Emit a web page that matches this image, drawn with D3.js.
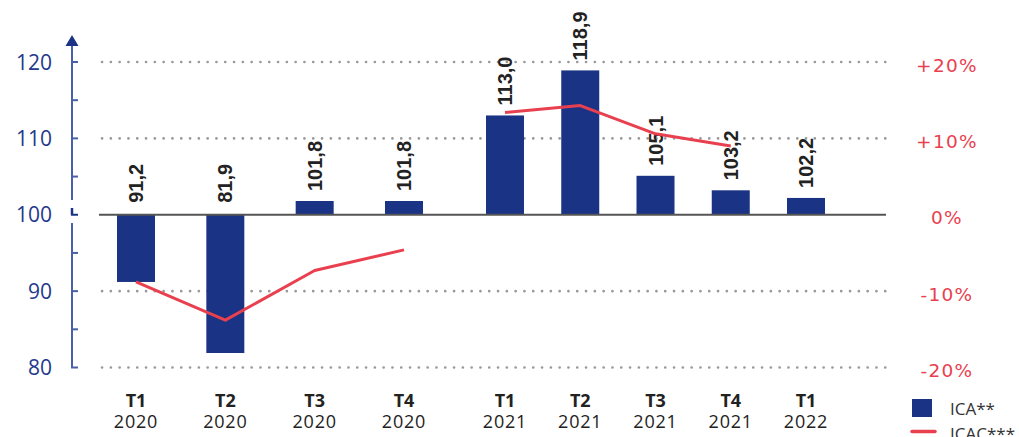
<!DOCTYPE html>
<html><head><meta charset="utf-8">
<script src="https://cdn.jsdelivr.net/npm/d3@7"></script>
<style>html,body{margin:0;padding:0;background:#fff;}svg{display:block;}</style>
</head><body>
<svg id="chart" width="1019" height="437"></svg>
<script>
// ---- data ----
const quarters = ["T1","T2","T3","T4","T1","T2","T3","T4","T1"];
const years    = ["2020","2020","2020","2020","2021","2021","2021","2021","2022"];
const ica      = [91.2, 81.9, 101.8, 101.8, 113.0, 118.9, 105.1, 103.2, 102.2];
const icac     = [-8.8, -13.8, -7.3, -4.6, 13.4, 14.3, 10.6, 9.0, null];
const leftTicks  = [80, 90, 100, 110, 120];
const rightTicks = [-20, -10, 0, 10, 20];
const seriesNames = ["ICA**", "ICAC***"];

// ---- layout / style ----
const navy = "#1b3385", axisBlue = "#4860a8", red = "#e9404f";
const svg = d3.select("#chart");
const y = d3.scaleLinear().domain([80, 120]).range([367.5, 62]);
const yR = d3.scaleLinear().domain([-20, 20]).range([y(80), y(120)]);
const idx = d3.range(quarters.length);
const x = d3.scaleLinear().domain([0, 3, 4, 8]).range([136, 404, 505, 806]);
const barW = 38;
const axisX = 72;
const fmt = v => d3.format(".1f")(v).replace(".", ",");

// gridlines
svg.append("g").selectAll("line").data(leftTicks.filter(t => t !== 100)).join("line")
  .attr("x1", 102).attr("x2", 886).attr("y1", d => y(d)).attr("y2", d => y(d))
  .attr("stroke", "#999").attr("stroke-width", 2.6).attr("stroke-linecap", "round")
  .attr("stroke-dasharray", "0.1,8.7");

// bars
svg.append("g").selectAll("rect").data(idx).join("rect")
  .attr("x", i => x(i) - barW / 2).attr("width", barW)
  .attr("y", i => Math.min(y(ica[i]), y(100)))
  .attr("height", i => Math.abs(y(ica[i]) - y(100)))
  .attr("fill", navy);

// baseline
svg.append("line").attr("x1", 99).attr("x2", 886).attr("y1", y(100)).attr("y2", y(100))
  .attr("stroke", "#555").attr("stroke-width", 2);

// bar value labels
svg.append("g").selectAll("text").data(idx).join("text")
  .attr("transform", i => `translate(${x(i)},${Math.min(y(ica[i]), y(100)) - (ica[i] < 100 ? 12 : 10)}) rotate(-90)`)
  .attr("dy", "0.35em").attr("text-anchor", "start")
  .attr("font-family", "'Liberation Sans', Arial, sans-serif").attr("font-weight", "bold")
  .attr("font-size", 20).attr("fill", "#222")
  .text(i => fmt(ica[i]));

// ICAC line, one segment per year
const line = d3.line().x(i => x(i)).y(i => yR(icac[i]));
const segs = d3.groups(idx.filter(i => icac[i] !== null), i => years[i]);
svg.append("g").selectAll("path").data(segs).join("path")
  .attr("d", d => line(d[1])).attr("fill", "none")
  .attr("stroke", red).attr("stroke-width", 3).attr("stroke-linejoin", "round");

// left axis (with break at 100)
const ax = svg.append("g").attr("stroke", axisBlue).attr("stroke-width", 2).attr("fill", "none");
ax.append("line").attr("x1", axisX).attr("x2", axisX).attr("y1", 44).attr("y2", 200);
ax.append("line").attr("x1", axisX).attr("x2", axisX).attr("y1", 208).attr("y2", y(100)).attr("stroke", navy).attr("stroke-width", 2.5);
ax.append("line").attr("x1", axisX).attr("x2", axisX).attr("y1", 223).attr("y2", y(80));
ax.selectAll("line.t").data(d3.range(80, 121, 5)).join("line").attr("class", "t")
  .attr("x1", axisX - 1).attr("x2", axisX + 6).attr("y1", d => y(d)).attr("y2", d => y(d))
  .attr("stroke", d => d === 100 ? navy : axisBlue);
svg.append("path").attr("d", `M${axisX - 6.5},46 L${axisX + 6.5},46 L${axisX},35 Z`).attr("fill", navy);

svg.append("g").selectAll("text").data(leftTicks).join("text")
  .attr("x", 52).attr("y", d => y(d)).attr("dy", "0.36em").attr("text-anchor", "end")
  .attr("font-family", "'Open Sans', sans-serif").attr("font-size", 21).attr("fill", "#22398a")
  .text(d => d);

// right axis labels
svg.append("g").selectAll("text").data(rightTicks).join("text")
  .attr("x", 947).attr("y", d => yR(d) + 3).attr("dy", "0.36em").attr("text-anchor", "middle")
  .attr("font-family", "'DejaVu Sans', sans-serif").attr("font-size", 18.5).attr("letter-spacing", 1.3)
  .attr("fill", red)
  .text(d => (d > 0 ? "+" : "") + d + "%");

// x labels
const xl = svg.append("g").attr("text-anchor", "middle").attr("fill", "#222")
  .attr("font-family", "'Open Sans', sans-serif");
xl.selectAll("text.q").data(idx).join("text").attr("class", "q")
  .attr("x", i => x(i)).attr("y", 406.5).attr("font-size", 18).attr("font-weight", "bold")
  .text(i => quarters[i]);
xl.selectAll("text.yr").data(idx).join("text").attr("class", "yr")
  .attr("x", i => x(i)).attr("y", 428).attr("font-size", 18).attr("letter-spacing", 0.8)
  .text(i => years[i]);

// legend
const lg = svg.append("g");
lg.append("rect").attr("x", 912).attr("y", 399).attr("width", 20).attr("height", 18).attr("fill", navy);
lg.append("line").attr("x1", 912).attr("x2", 935).attr("y1", 431.5).attr("y2", 431.5)
  .attr("stroke", red).attr("stroke-width", 3.5).attr("stroke-linecap", "round");
lg.selectAll("text").data(seriesNames).join("text")
  .attr("x", 950).attr("y", (d, i) => i === 0 ? 414.5 : 439.5)
  .attr("font-family", "'Open Sans', sans-serif").attr("font-size", 17).attr("fill", "#333")
  .text(d => d);
</script>
</body></html>
